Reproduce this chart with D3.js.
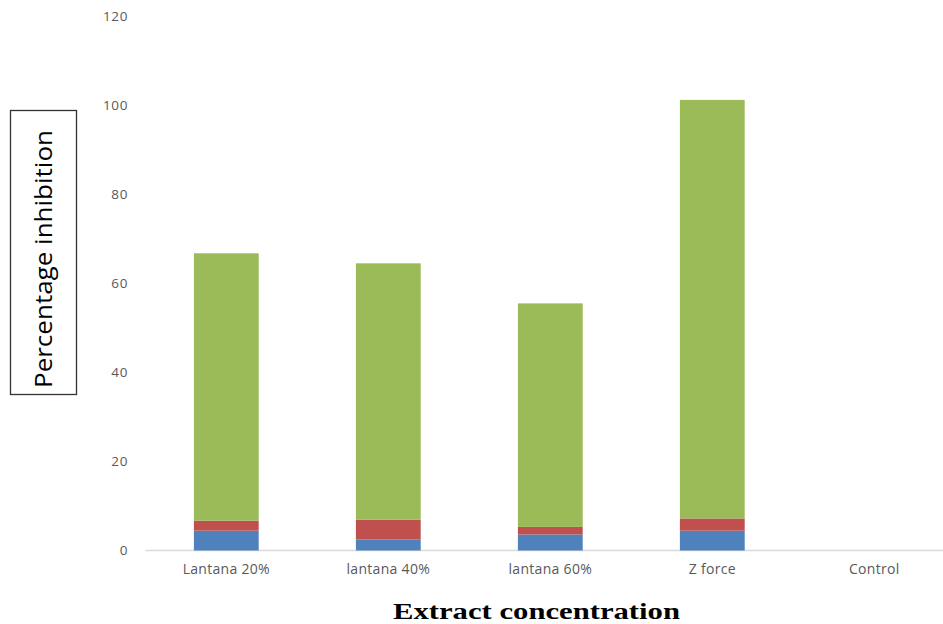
<!DOCTYPE html>
<html>
<head>
<meta charset="utf-8">
<script src="https://cdn.jsdelivr.net/npm/d3@7"></script>
<style>
  html, body { margin: 0; padding: 0; background: #fff; }
  svg { display: block; }
</style>
</head>
<body>
<svg id="chart" width="943" height="624"></svg>
<script>
const categories = ["Lantana 20%", "lantana 40%", "lantana 60%", "Z force", "Control"];
const seriesNames = ["Series1", "Series2", "Series3"];
const series1 = [4.45, 2.5, 3.6, 4.45, 0];
const series2 = [2.25, 4.4, 1.7, 2.75, 0];
const series3 = [60.05, 57.6, 50.2, 94.0, 0];
const yTicks = [0, 20, 40, 60, 80, 100, 120];
const colors = ["#4f81bd", "#c0504d", "#9bbb59"];

const svg = d3.select("#chart");
const x = d3.scaleBand().domain(categories).range([145.3, 955.3]).paddingInner(0.6).paddingOuter(0.3);
const y = d3.scaleLinear().domain([0, 120]).range([550.5, 16.2]);

const table = categories.map((c, i) => ({ cat: c, Series1: series1[i], Series2: series2[i], Series3: series3[i] }));
const stacked = d3.stack().keys(seriesNames)(table);

// axis line
svg.append("line")
  .attr("x1", x.range()[0]).attr("x2", x.range()[1])
  .attr("y1", y(0)).attr("y2", y(0))
  .attr("stroke", "#d9d9d9").attr("stroke-width", 1.5);

// bars
svg.append("g").selectAll("g").data(stacked).join("g")
  .attr("fill", (d, i) => colors[i])
  .selectAll("rect").data(d => d).join("rect")
  .attr("x", d => x(d.data.cat))
  .attr("width", x.bandwidth())
  .attr("y", d => y(d[1]))
  .attr("height", d => Math.max(0, y(d[0]) - y(d[1])));

// y tick labels
svg.append("g").selectAll("text").data(yTicks).join("text")
  .attr("x", 128).attr("y", d => y(d))
  .attr("dy", "0.35em")
  .attr("text-anchor", "end")
  .attr("font-family", "Open Sans, sans-serif")
  .attr("font-size", 13.5)
  .attr("letter-spacing", 0.6)
  .attr("fill", "#595959")
  .text(d => d);

// category labels
svg.append("g").selectAll("text").data(categories).join("text")
  .attr("x", d => x(d) + x.bandwidth() / 2).attr("y", 574)
  .attr("text-anchor", "middle")
  .attr("font-family", "Open Sans, sans-serif")
  .attr("font-size", 14)
  .attr("letter-spacing", 0.3)
  .attr("fill", "#595959")
  .text(d => d);

// y title box
svg.append("rect")
  .attr("x", 10.5).attr("y", 110.5).attr("width", 66).attr("height", 284)
  .attr("fill", "none").attr("stroke", "#333").attr("stroke-width", 1.3);
svg.append("text")
  .attr("transform", "translate(52,259) rotate(-90)")
  .attr("text-anchor", "middle")
  .attr("font-family", "Open Sans, sans-serif")
  .attr("font-size", 24)
  .attr("textLength", 258)
  .attr("lengthAdjust", "spacingAndGlyphs")
  .attr("fill", "#000")
  .text("Percentage inhibition");

// x title
svg.append("text")
  .attr("x", 536.5).attr("y", 619)
  .attr("text-anchor", "middle")
  .attr("font-family", "Liberation Serif, serif")
  .attr("font-weight", "bold")
  .attr("font-size", 23)
  .attr("textLength", 287)
  .attr("lengthAdjust", "spacingAndGlyphs")
  .attr("fill", "#000")
  .text("Extract concentration");
</script>
</body>
</html>
